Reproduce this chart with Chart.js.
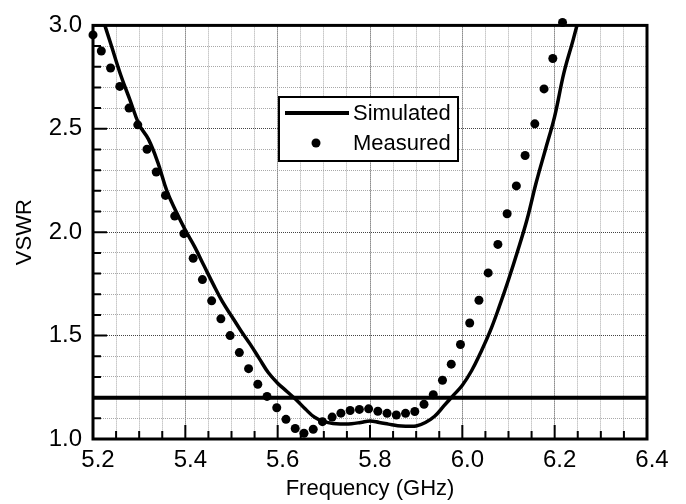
<!DOCTYPE html>
<html>
<head>
<meta charset="utf-8">
<script src="https://cdn.jsdelivr.net/npm/chart.js@4.4.1/dist/chart.umd.min.js"></script>
<style>
  html, body { margin: 0; padding: 0; background: #fff; }
  #wrap { width: 686px; height: 504px; }
</style>
</head>
<body>
<div id="wrap"><canvas id="chartVswr"></canvas></div>
<script>
    // measured VSWR (dots)
    const measFreq = [5.200, 5.218, 5.238, 5.258, 5.278, 5.297, 5.317, 5.337, 5.357, 5.377,
        5.397, 5.417, 5.437, 5.457, 5.477, 5.497, 5.517, 5.537, 5.557, 5.577,
        5.598, 5.618, 5.638, 5.657, 5.677, 5.697, 5.718, 5.737, 5.757, 5.777,
        5.797, 5.817, 5.837, 5.857, 5.877, 5.897, 5.917, 5.937, 5.957, 5.976,
        5.996, 6.016, 6.036, 6.056, 6.077, 6.097, 6.117, 6.136, 6.157, 6.177,
        6.196, 6.217];
    const measVswr = [2.954, 2.876, 2.794, 2.705, 2.600, 2.519, 2.401, 2.291, 2.178, 2.078,
        1.993, 1.874, 1.771, 1.668, 1.581, 1.500, 1.418, 1.340, 1.265, 1.206,
        1.151, 1.095, 1.051, 1.028, 1.047, 1.084, 1.106, 1.125, 1.138, 1.143,
        1.146, 1.134, 1.124, 1.116, 1.124, 1.133, 1.168, 1.214, 1.284, 1.362,
        1.457, 1.561, 1.671, 1.803, 1.941, 2.089, 2.224, 2.371, 2.524, 2.693,
        2.840, 3.014];

    // simulated VSWR (solid line)
    const simFreq = [5.20, 5.22, 5.24, 5.26, 5.28, 5.30, 5.32, 5.34, 5.36, 5.38,
        5.40, 5.42, 5.44, 5.46, 5.48, 5.50, 5.52, 5.54, 5.56, 5.58,
        5.60, 5.62, 5.64, 5.66, 5.68, 5.70, 5.72, 5.74, 5.76, 5.78,
        5.80, 5.82, 5.84, 5.86, 5.88, 5.90, 5.92, 5.94, 5.96, 5.98,
        6.00, 6.02, 6.04, 6.06, 6.08, 6.10, 6.12, 6.14, 6.16, 6.18,
        6.20, 6.22, 6.24, 6.26];
    const simVswr = [3.18, 3.04, 2.90, 2.76, 2.64, 2.52, 2.45, 2.34, 2.20, 2.10,
        2.01, 1.93, 1.84, 1.75, 1.665, 1.595, 1.525, 1.46, 1.39, 1.32,
        1.27, 1.23, 1.19, 1.145, 1.105, 1.085, 1.075, 1.073, 1.074, 1.080,
        1.087, 1.080, 1.072, 1.064, 1.062, 1.063, 1.08, 1.11, 1.16, 1.21,
        1.26, 1.33, 1.42, 1.52, 1.64, 1.77, 1.91, 2.06, 2.24, 2.40,
        2.56, 2.77, 2.93, 3.10];

    // VSWR = 1.2 reference line
    const refFreq = [5.2, 6.4];
    const refVswr = [1.2, 1.2];

    const xMin = 5.2, xMax = 6.4, xStep = 0.05, xLabelStep = 0.2;
    const yMin = 1.0, yMax = 3.0, yStep = 0.1, yLabelStep = 0.5;

    const FONT = "'Liberation Sans', Arial, sans-serif";

    function isMultiple(v, step) {
        const r = v / step;
        return Math.abs(r - Math.round(r)) < 1e-6;
    }
    function toPoints(xs, ys) {
        return xs.map((x, i) => ({ x: x, y: ys[i] }));
    }

    // frame, inward ticks and boxed legend
    const framePlugin = {
        id: 'frame',
        beforeDatasetsDraw(chart) {
            const { ctx, chartArea: a, scales } = chart;
            ctx.save();
            ctx.strokeStyle = '#000';
            ctx.lineWidth = 2;
            ctx.beginPath();
            scales.x.ticks.forEach(t => {
                const px = scales.x.getPixelForValue(t.value);
                const len = isMultiple(t.value, xLabelStep) ? 14 : 8;
                ctx.moveTo(px, a.bottom);
                ctx.lineTo(px, a.bottom - len);
            });
            scales.y.ticks.forEach(t => {
                const py = scales.y.getPixelForValue(t.value);
                const len = isMultiple(t.value, yLabelStep) ? 14 : 8;
                ctx.moveTo(a.left, py);
                ctx.lineTo(a.left + len, py);
            });
            ctx.stroke();
            ctx.lineWidth = 3;
            ctx.strokeRect(a.left, a.top, a.right - a.left, a.bottom - a.top);
            ctx.restore();
        },
        afterDraw(chart) {
            const { ctx } = chart;
            const sim = chart.data.datasets[0];
            const meas = chart.data.datasets[1];
            ctx.save();
            ctx.fillStyle = '#fff';
            ctx.fillRect(279, 97, 179, 64);
            ctx.strokeStyle = '#000';
            ctx.lineWidth = 2;
            ctx.strokeRect(279, 97, 179, 64);
            ctx.lineWidth = 4;
            ctx.beginPath();
            ctx.moveTo(285, 113);
            ctx.lineTo(349, 113);
            ctx.stroke();
            ctx.fillStyle = '#000';
            ctx.beginPath();
            ctx.arc(316, 143, 4.5, 0, Math.PI * 2);
            ctx.fill();
            ctx.font = '22px ' + FONT;
            ctx.textBaseline = 'middle';
            ctx.textAlign = 'left';
            ctx.fillText(sim.label, 353, 114);
            ctx.fillText(meas.label, 353, 144);
            ctx.restore();
        }
    };

    new Chart(document.getElementById('chartVswr'), {
        type: 'scatter',
        data: {
            datasets: [{
                label: 'Simulated',
                data: toPoints(simFreq, simVswr),
                showLine: true,
                borderColor: '#000',
                borderWidth: 3.5,
                pointRadius: 0,
                tension: 0.4,
                clip: 0
            }, {
                label: 'Measured',
                data: toPoints(measFreq, measVswr),
                showLine: false,
                backgroundColor: '#000',
                borderColor: '#000',
                pointRadius: 4.5,
                borderWidth: 0,
                clip: false
            }, {
                label: 'ref',
                data: toPoints(refFreq, refVswr),
                showLine: true,
                borderColor: '#000',
                borderWidth: 4,
                pointRadius: 0,
                clip: 0
            }]
        },
        options: {
            responsive: true,
            maintainAspectRatio: false,
            animation: false,
            layout: { padding: { top: 18, right: 39, left: 0, bottom: 0 } },
            plugins: {
                legend: { display: false },
                tooltip: { enabled: false }
            },
            scales: {
                x: {
                    type: 'linear',
                    min: xMin,
                    max: xMax,
                    afterFit(scale) { scale.height = 65; },
                    border: { display: false, dash: [1, 1] },
                    grid: {
                        drawTicks: false,
                        lineWidth: 1,
                        color: (c) => isMultiple(c.tick.value, xLabelStep) ? '#444' : '#a8a8a8'
                    },
                    ticks: {
                        stepSize: xStep,
                        autoSkip: false,
                        maxRotation: 0,
                        padding: 7,
                        labelOffset: 5,
                        color: '#000',
                        font: { family: FONT, size: 24 },
                        callback: (v) => isMultiple(v, xLabelStep) ? v.toFixed(1) : ''
                    },
                    title: {
                        display: true,
                        text: 'Frequency (GHz)',
                        color: '#000',
                        font: { family: FONT, size: 22 },
                        padding: { top: 0, bottom: 2 }
                    }
                },
                y: {
                    type: 'linear',
                    min: yMin,
                    max: yMax,
                    afterFit(scale) { scale.width = 93; },
                    border: { display: false, dash: [1, 1] },
                    grid: {
                        drawTicks: false,
                        lineWidth: 1,
                        color: (c) => isMultiple(c.tick.value, yLabelStep) ? '#444' : '#a8a8a8'
                    },
                    ticks: {
                        stepSize: yStep,
                        autoSkip: false,
                        padding: 11,
                        color: '#000',
                        font: { family: FONT, size: 24 },
                        callback: (v) => isMultiple(v, yLabelStep) ? v.toFixed(1) : ''
                    },
                    title: {
                        display: true,
                        text: 'VSWR',
                        color: '#000',
                        font: { family: FONT, size: 22 },
                        padding: { top: 12, bottom: 0 }
                    }
                }
            }
        },
        plugins: [framePlugin]
    });
</script>
</body>
</html>
